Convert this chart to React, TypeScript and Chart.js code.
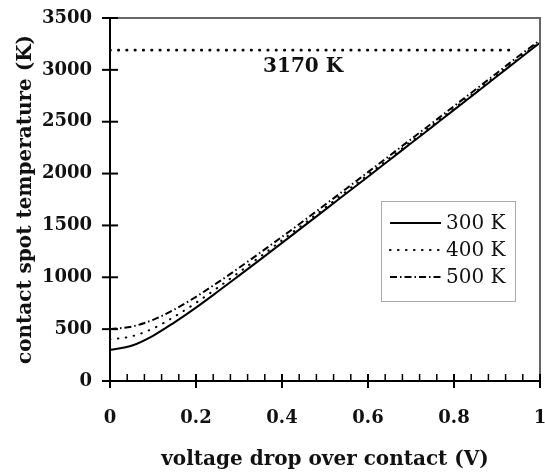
import React, { useEffect, useRef } from "react";
import { Chart, registerables } from "chart.js";
Chart.register(...registerables);

const voltage = [0, 0.05, 0.1, 0.15, 0.2, 0.25, 0.3, 0.35, 0.4, 0.45, 0.5, 0.55, 0.6, 0.65, 0.7, 0.75, 0.8, 0.85, 0.9, 0.95, 1.0];
const temp300 = [300, 340, 436, 566, 708, 860, 1016, 1173, 1332, 1491, 1650, 1810, 1970, 2131, 2292, 2453, 2614, 2776, 2938, 3100, 3262];
const temp400 = [400, 430, 506, 621, 754, 898, 1048, 1201, 1357, 1513, 1671, 1830, 1989, 2148, 2308, 2468, 2628, 2789, 2950, 3111, 3272];
const temp500 = [500, 524, 590, 690, 812, 948, 1091, 1239, 1390, 1543, 1699, 1856, 2014, 2172, 2331, 2490, 2650, 2810, 2970, 3131, 3285];
const seriesLabels = ["300 K", "400 K", "500 K"];

const refX = [0, 0.94];
const refY = [3190, 3190];
const refLabel = "3170 K";
const refLabelPos = [0.449, 3025];

const yTickValues = [0, 500, 1000, 1500, 2000, 2500, 3000, 3500];
const xMajorValues = [0, 0.2, 0.4, 0.6, 0.8, 1];
const xTickLabels = ["0", "0.2", "0.4", "0.6", "0.8", "1"];
const xMinorValues = [0.04, 0.08, 0.12, 0.16, 0.24, 0.28, 0.32, 0.36, 0.44, 0.48, 0.52, 0.56, 0.64, 0.68, 0.72, 0.76, 0.84, 0.88, 0.92, 0.96];

const xTitle = "voltage drop over contact (V)";
const yTitle = "contact spot temperature (K)";

const SERIF = '"DejaVu Serif", serif';

const dashes: number[][] = [[], [0.5, 7.5], [7, 3, 1.5, 3]];
const caps: CanvasLineCap[] = ["butt", "round", "butt"];

const decor = {
  id: "decor",
  afterDatasetsDraw(chart: any) {
    const { ctx, chartArea, scales } = chart;
    const { left, right, top, bottom } = chartArea;
    const x = scales.x;
    const y = scales.y;
    ctx.save();
    ctx.strokeStyle = "#666";
    ctx.lineWidth = 2;
    ctx.setLineDash([]);
    ctx.beginPath();
    ctx.moveTo(left - 8, top);
    ctx.lineTo(right, top);
    ctx.lineTo(right, bottom);
    ctx.stroke();

    ctx.strokeStyle = "#000";
    ctx.lineWidth = 2;
    for (const v of yTickValues) {
      const p = y.getPixelForValue(v);
      ctx.beginPath();
      ctx.moveTo(left - 8, p);
      ctx.lineTo(left + 8, p);
      ctx.stroke();
    }
    for (const v of xMajorValues) {
      const p = x.getPixelForValue(v);
      ctx.beginPath();
      ctx.moveTo(p, bottom - 7);
      ctx.lineTo(p, bottom + 7);
      ctx.stroke();
    }
    ctx.lineWidth = 1.5;
    for (const v of xMinorValues) {
      const p = x.getPixelForValue(v);
      ctx.beginPath();
      ctx.moveTo(p, bottom - 7);
      ctx.lineTo(p, bottom);
      ctx.stroke();
    }

    ctx.fillStyle = "#111";
    ctx.font = `bold 20px ${SERIF}`;
    ctx.textAlign = "center";
    ctx.textBaseline = "middle";
    ctx.fillText(refLabel, x.getPixelForValue(refLabelPos[0]), y.getPixelForValue(refLabelPos[1]));

    const bx = 381, by = 201, bw = 134, bh = 100;
    ctx.fillStyle = "#fff";
    ctx.fillRect(bx, by, bw, bh);
    ctx.strokeStyle = "#aaa";
    ctx.lineWidth = 1;
    ctx.strokeRect(bx + 0.5, by + 0.5, bw, bh);
    ctx.font = `20px ${SERIF}`;
    ctx.textAlign = "left";
    ctx.fillStyle = "#111";
    seriesLabels.forEach((lab, i) => {
      const ly = 223 + i * 27;
      ctx.strokeStyle = "#000";
      ctx.lineWidth = 2.2;
      ctx.lineCap = caps[i];
      ctx.setLineDash(dashes[i]);
      ctx.beginPath();
      ctx.moveTo(390, ly);
      ctx.lineTo(441, ly);
      ctx.stroke();
      ctx.setLineDash([]);
      ctx.fillText(lab, 446, ly + 1);
    });
    ctx.restore();
  },
};

export default function App() {
  const ref = useRef<HTMLCanvasElement>(null);
  useEffect(() => {
    document.body.style.margin = "0";
    const canvas = ref.current!;
    const mk = (arr: number[]) => voltage.map((v, i) => ({ x: v, y: arr[i] }));
    const series = [temp300, temp400, temp500];
    const datasets: any[] = series.map((s, i) => ({
      label: seriesLabels[i],
      data: mk(s),
      borderColor: "#000",
      borderWidth: 2,
      borderDash: dashes[i],
      borderCapStyle: caps[i],
      pointRadius: 0,
      cubicInterpolationMode: "monotone",
      fill: false,
    }));
    datasets.push({
      label: "ref",
      data: refX.map((v, i) => ({ x: v, y: refY[i] })),
      borderColor: "#000",
      borderWidth: 2.6,
      borderDash: [0.5, 7.8],
      borderCapStyle: "round",
      pointRadius: 0,
      fill: false,
    });
    const tickFont = { family: SERIF, size: 18, weight: "bold" as const };
    const titleFont = { family: SERIF, size: 20, weight: "bold" as const };
    const chart = new Chart(canvas, {
      type: "line",
      data: { datasets },
      plugins: [decor],
      options: {
        responsive: false,
        animation: false,
        devicePixelRatio: 1,
        layout: { padding: { top: 18, right: 5, left: 0, bottom: 0 } },
        plugins: { legend: { display: false }, tooltip: { enabled: false } },
        scales: {
          x: {
            type: "linear",
            min: 0,
            max: 1,
            ticks: {
              stepSize: 0.2,
              font: tickFont,
              color: "#111",
              padding: 27,
              maxRotation: 0,
              callback: (v: any) => {
                const idx = xMajorValues.findIndex((m) => Math.abs(m - v) < 1e-6);
                return idx >= 0 ? xTickLabels[idx] : "";
              },
            },
            grid: { display: false, drawTicks: false },
            border: { display: true, color: "#000", width: 2 },
            title: { display: true, text: xTitle, font: titleFont, color: "#111", padding: { top: 0, bottom: 3 } },
            afterFit: (s: any) => {
              s.height = 94;
              s.paddingLeft = 0;
              s.paddingRight = 0;
            },
          },
          y: {
            type: "linear",
            min: 0,
            max: 3500,
            ticks: { stepSize: 500, font: tickFont, color: "#111", padding: 18, callback: (v: any) => String(v) },
            grid: { display: false, drawTicks: false },
            border: { display: true, color: "#000", width: 2 },
            title: { display: true, text: yTitle, font: titleFont, color: "#111", padding: { top: 14, bottom: 0 } },
            afterFit: (s: any) => {
              s.width = 110;
              s.paddingTop = 0;
              s.paddingBottom = 0;
            },
          },
        },
      } as any,
    });
    return () => chart.destroy();
  }, []);
  return (
    <div style={{ width: 545, height: 475 }}>
      <canvas ref={ref} width={545} height={475} />
    </div>
  );
}
